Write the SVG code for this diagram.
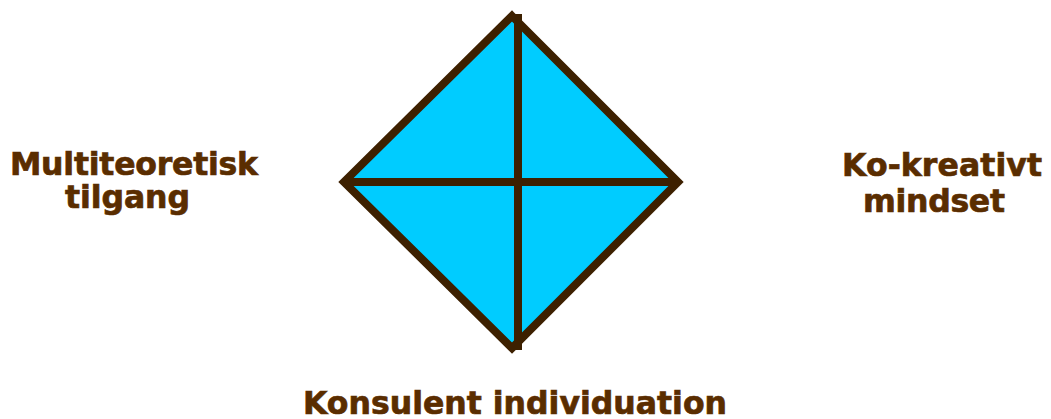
<svg xmlns="http://www.w3.org/2000/svg" width="1051" height="419" viewBox="0 0 1051 419">
<style>
.lbl{font-family:"DejaVu Sans",Verdana,sans-serif;font-weight:bold;font-size:31.5px;fill:#5a2d00;stroke:#5a2d00;stroke-width:0.7px}
.ln{stroke:#3d2000;stroke-width:8;fill:none}
</style>
<rect width="1051" height="419" fill="#ffffff"/>
<g id="diamond">
<polygon points="512,16 678,182 512,348 344,182" fill="#00ccff" stroke="#3d2000" stroke-width="8" stroke-linejoin="miter"/>
</g>
<g id="connectors">
<line class="ln" x1="344" y1="182" x2="678" y2="182"/>
<line class="ln" x1="518" y1="14" x2="518" y2="350"/>
</g>
<g id="left">
<text class="lbl" x="10" y="175" textLength="248" lengthAdjust="spacing">Multiteoretisk</text>
<text class="lbl" x="65" y="208" textLength="125" lengthAdjust="spacing">tilgang</text>
</g>
<g id="right">
<text class="lbl" x="842" y="176" textLength="200" lengthAdjust="spacing">Ko-kreativt</text>
<text class="lbl" x="863" y="212" textLength="142" lengthAdjust="spacing">mindset</text>
</g>
<g id="bottom">
<text class="lbl" x="303" y="414" textLength="424" lengthAdjust="spacing">Konsulent individuation</text>
</g>
</svg>
